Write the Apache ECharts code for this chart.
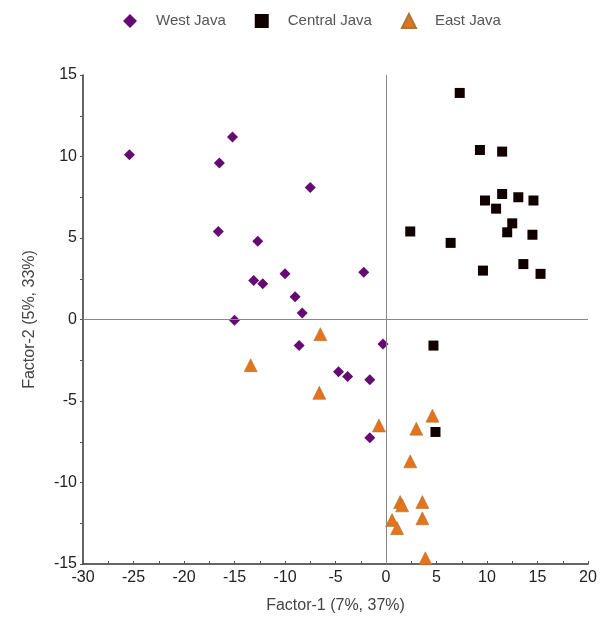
<!DOCTYPE html>
<html>
<head>
<meta charset="utf-8">
<script src="https://cdn.jsdelivr.net/npm/echarts@6/dist/echarts.min.js"></script>
<style>
  html, body { margin: 0; padding: 0; background: #fff; }
  #chart { width: 603px; height: 623px; }
</style>
</head>
<body>
<div id="chart"></div>
<script>
// Factor scores: [factor1, factor2]
const westJava = [
  [-25.4, 10.1], [-15.2, 11.2], [-16.5, 9.6], [-7.5, 8.1], [-16.6, 5.4],
  [-12.7, 4.8], [-13.1, 2.4], [-12.2, 2.2], [-10.0, 2.8], [-9.0, 1.4],
  [-8.3, 0.4], [-2.2, 2.9], [-15.0, -0.05], [-8.6, -1.6], [-0.3, -1.5],
  [-4.7, -3.2], [-3.8, -3.5], [-1.6, -3.7], [-1.6, -7.25]
]
const centralJava = [
  [7.3, 13.9], [9.3, 10.4], [11.5, 10.3], [9.8, 7.3], [11.5, 7.7],
  [13.1, 7.5], [14.6, 7.3], [10.9, 6.8], [12.5, 5.9], [12.0, 5.35],
  [14.5, 5.2], [2.4, 5.4], [6.4, 4.7], [9.6, 3.0], [13.6, 3.4],
  [15.3, 2.8], [4.7, -1.6], [4.9, -6.9]
]
const eastJava = [
  [-6.5, -0.9], [-13.4, -2.8], [-6.6, -4.5], [-0.7, -6.5], [4.6, -5.9],
  [3.0, -6.7], [2.4, -8.7], [1.4, -11.2], [1.6, -11.4], [3.6, -11.2],
  [0.6, -12.3], [1.1, -12.8], [3.6, -12.2], [3.9, -14.65]
]

const chart = echarts.init(document.getElementById('chart'), null, { renderer: 'canvas' })

const font = 'Liberation Sans, Arial'
const tickStyle = { color: '#555' }

chart.setOption({
  animation: false,
  backgroundColor: '#fff',
  grid: { left: 83, right: 15, top: 75, bottom: 59 },
  legend: {
    top: 8,
    left: 118,
    itemWidth: 14,
    itemHeight: 14,
    itemGap: 29,
    textStyle: { color: '#555', fontSize: 15, fontFamily: font, padding: [0, 0, 0, 14] },
    data: [
      { name: 'West Java', icon: 'diamond' },
      { name: 'Central Java', icon: 'rect' },
      { name: 'East Java', icon: 'triangle' }
    ]
  },
  xAxis: {
    type: 'value',
    min: -30, max: 20, interval: 5,
    name: 'Factor-1 (7%, 37%)',
    nameLocation: 'middle',
    nameGap: 34,
    nameTextStyle: { color: '#444', fontSize: 16, fontFamily: font },
    axisLine: { show: true, onZero: false, lineStyle: { color: '#333', width: 1.5 } },
    axisTick: { show: true, inside: true, length: 3, lineStyle: tickStyle },
    minorTick: { show: true, splitNumber: 2, length: 3, lineStyle: tickStyle },
    splitLine: { show: false },
    axisLabel: { color: '#222', fontSize: 16, fontFamily: font, margin: 6 }
  },
  yAxis: {
    type: 'value',
    min: -15, max: 15, interval: 5,
    name: 'Factor-2 (5%, 33%)',
    nameLocation: 'middle',
    nameGap: 45,
    nameTextStyle: { color: '#444', fontSize: 16, fontFamily: font },
    axisLine: { show: true, onZero: false, lineStyle: { color: '#333', width: 1.5 } },
    axisTick: { show: true, length: 3, lineStyle: tickStyle },
    minorTick: { show: true, splitNumber: 2, length: 3, lineStyle: tickStyle },
    splitLine: { show: false },
    axisLabel: { color: '#222', fontSize: 16, fontFamily: font, margin: 6 }
  },
  series: [
    {
      name: 'West Java',
      type: 'scatter',
      symbol: 'diamond',
      symbolSize: 11,
      itemStyle: { color: '#640a72', opacity: 1 },
      data: westJava,
      markLine: {
        silent: true,
        symbol: 'none',
        label: { show: false },
        lineStyle: { color: '#888', width: 1, type: 'solid' },
        data: [{ xAxis: 0 }, { yAxis: 0 }]
      },
      z: 3
    },
    {
      name: 'Central Java',
      type: 'scatter',
      symbol: 'rect',
      symbolSize: 10,
      itemStyle: { color: '#100000', opacity: 1 },
      data: centralJava,
      z: 3
    },
    {
      name: 'East Java',
      type: 'scatter',
      symbol: 'triangle',
      symbolSize: 13,
      itemStyle: { color: '#e6721c', borderColor: '#a07a3c', borderWidth: 0.6, opacity: 1 },
      data: eastJava,
      z: 4
    }
  ]
})
</script>
</body>
</html>
